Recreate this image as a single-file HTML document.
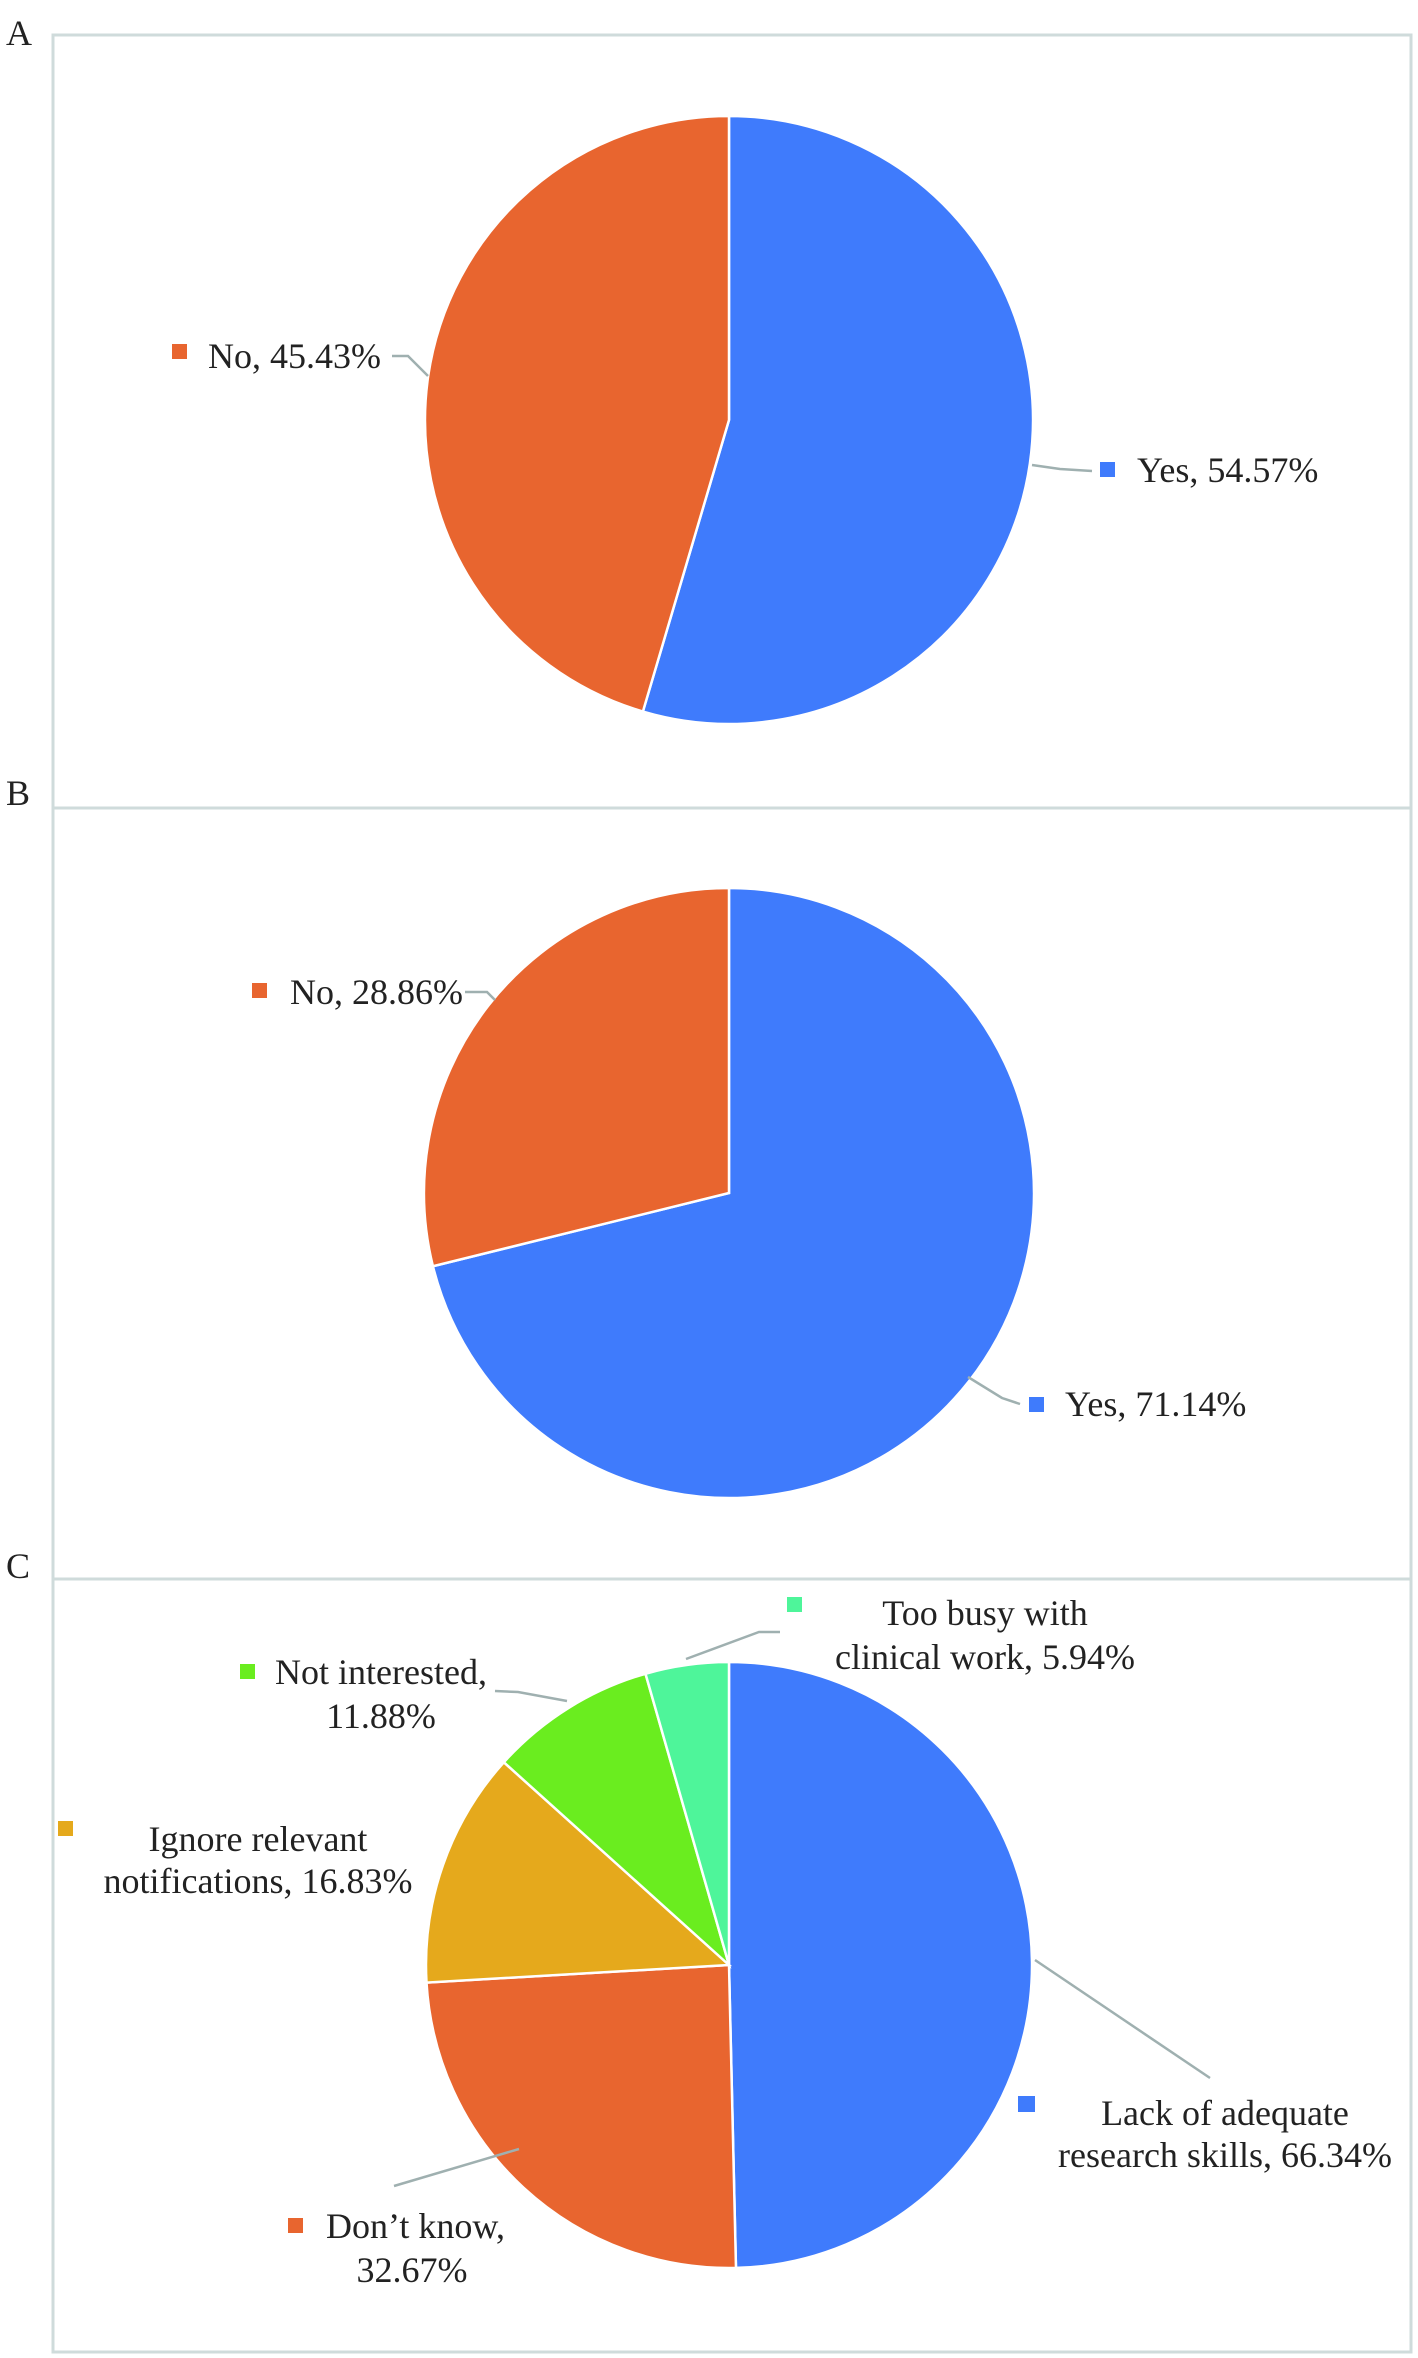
<!DOCTYPE html>
<html><head><meta charset="utf-8">
<style>
html,body{margin:0;padding:0;background:#fff;}
svg{display:block;}
text{font-family:"Liberation Serif",serif;fill:#222;}
</style></head>
<body>
<svg id="fig" width="1418" height="2358" viewBox="0 0 1418 2358">
  <g fill="none" stroke="#cfdbdb" stroke-width="3">
    <rect x="53" y="35" width="1358" height="773"/>
    <rect x="53" y="808" width="1358" height="771"/>
    <rect x="53" y="1579" width="1358" height="773"/>
  </g>
  <text x="6" y="45" font-size="36">A</text>
  <text x="6" y="805" font-size="36">B</text>
  <text x="6" y="1578" font-size="36">C</text>
  <g id="slices"></g>
  <g fill="none" stroke="#9fb0b0" stroke-width="2.5">
    <polyline points="392,356 408,356 428,376"/>
    <polyline points="1032,465 1060,469 1092,471"/>
    <polyline points="465,992 487,992 495,1000"/>
    <polyline points="968,1377 1002,1398 1020,1404"/>
    <polyline points="686,1659 759,1632 780,1632"/>
    <polyline points="495,1691 518,1692 567,1701"/>
    <polyline points="1035,1960 1210,2078"/>
    <polyline points="394,2186 519,2149"/>
  </g>
  <g font-size="36">
    <rect x="172" y="344" width="15" height="15" fill="#e8652f"/>
    <text x="208" y="368">No, 45.43%</text>
    <rect x="1100" y="462" width="15" height="15" fill="#3f7bfc"/>
    <text x="1137" y="482">Yes, 54.57%</text>
    <rect x="252" y="983" width="15" height="15" fill="#e8652f"/>
    <text x="290" y="1004">No, 28.86%</text>
    <rect x="1029" y="1397" width="15" height="15" fill="#3f7bfc"/>
    <text x="1065" y="1416">Yes, 71.14%</text>
    <rect x="787" y="1597" width="15" height="15" fill="#4ef59a"/>
    <text x="985" y="1625" text-anchor="middle"><tspan x="985">Too busy with</tspan><tspan x="985" dy="44">clinical work, 5.94%</tspan></text>
    <rect x="240" y="1664" width="15" height="15" fill="#6aed1f"/>
    <text x="275" y="1684">Not interested,</text>
    <text x="381" y="1728" text-anchor="middle">11.88%</text>
    <rect x="58" y="1821" width="15" height="15" fill="#e5a91c"/>
    <text x="258" y="1851" text-anchor="middle"><tspan x="258">Ignore relevant</tspan><tspan x="258" dy="42">notifications, 16.83%</tspan></text>
    <rect x="1018" y="2096" width="17" height="16" fill="#3f7bfc"/>
    <text x="1225" y="2125" text-anchor="middle"><tspan x="1225">Lack of adequate</tspan><tspan x="1225" dy="42">research skills, 66.34%</tspan></text>
    <rect x="288" y="2218" width="15" height="15" fill="#e8652f"/>
    <text x="326" y="2238">Don’t know,</text>
    <text x="412" y="2282" text-anchor="middle">32.67%</text>
  </g>
</svg>
<script>
const pieAValues = [54.57, 45.43];
const pieBValues = [71.14, 28.86];
const pieCCategories = ["Lack of adequate research skills", "Don't know", "Ignore relevant notifications", "Not interested", "Too busy with clinical work"];
const pieCValues = [66.34, 32.67, 16.83, 11.88, 5.94];
const pieAColors = ["#3f7bfc", "#e8652f"];
const pieBColors = ["#3f7bfc", "#e8652f"];
const pieCColors = ["#3f7bfc", "#e8652f", "#e5a91c", "#6aed1f", "#4ef59a"];

const NS = "http://www.w3.org/2000/svg";
const g = document.getElementById("slices");
function drawPie(values, colors, cx, cy, r, prefix) {
  const total = values.reduce((a, b) => a + b, 0);
  let acc = 0;
  values.forEach((v, i) => {
    const a0 = acc / total * 2 * Math.PI;
    acc += v;
    const a1 = acc / total * 2 * Math.PI;
    const x0 = cx + r * Math.sin(a0), y0 = cy - r * Math.cos(a0);
    const x1 = cx + r * Math.sin(a1), y1 = cy - r * Math.cos(a1);
    const large = (a1 - a0) > Math.PI ? 1 : 0;
    const p = document.createElementNS(NS, "path");
    p.setAttribute("d", `M${cx},${cy} L${x0},${y0} A${r},${r} 0 ${large} 1 ${x1},${y1} Z`);
    p.setAttribute("fill", colors[i]);
    p.setAttribute("stroke", "#fff");
    p.setAttribute("stroke-width", "2.5");
    
    
    g.appendChild(p);
  });
}
drawPie(pieAValues, pieAColors, 729, 420, 304, "pie-a");
drawPie(pieBValues, pieBColors, 729, 1193, 305, "pie-b");
drawPie(pieCValues, pieCColors, 729, 1965, 303, "pie-c");
</script>
</body></html>
